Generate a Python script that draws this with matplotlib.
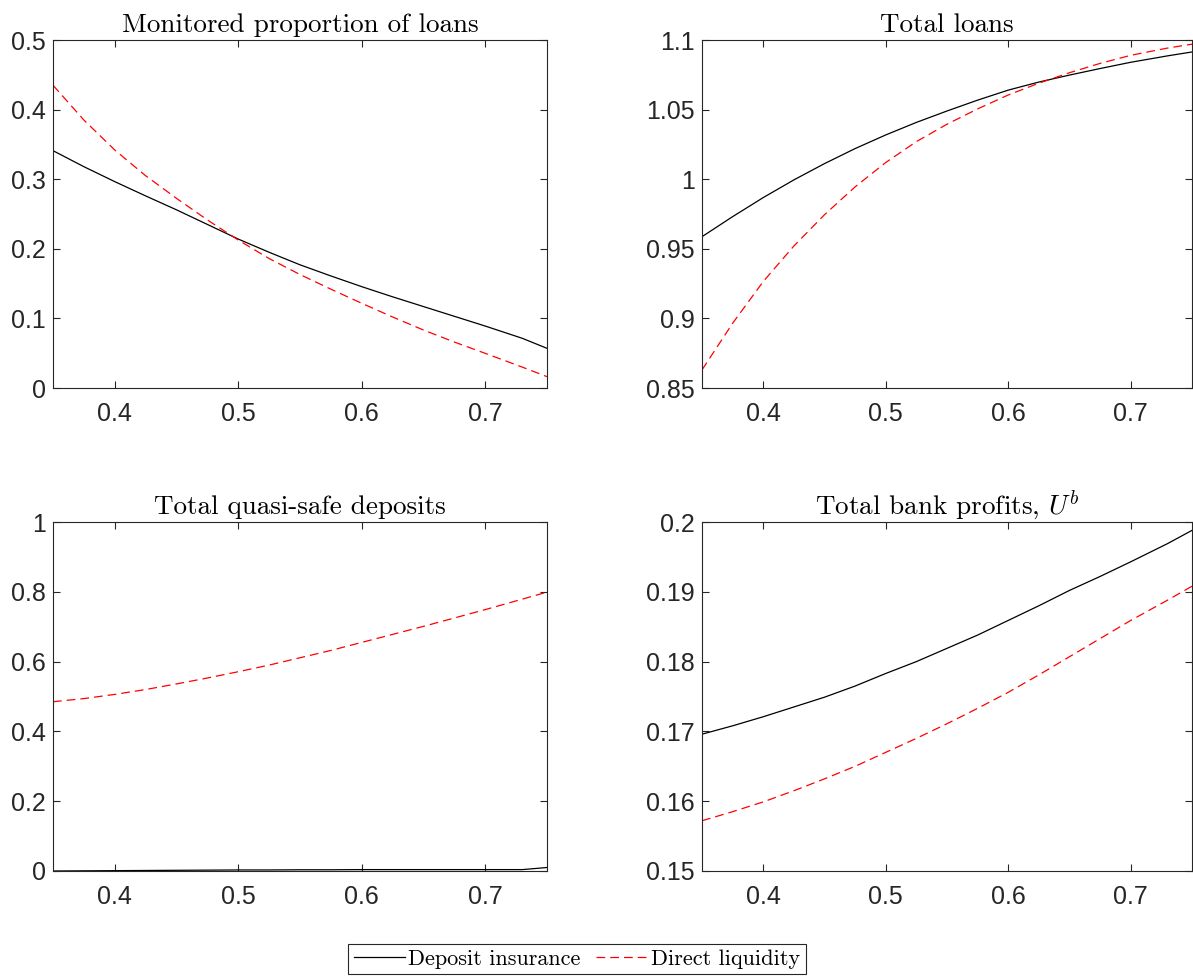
import matplotlib
matplotlib.use('Agg')
import matplotlib.pyplot as plt

plt.rcParams['mathtext.fontset'] = 'cm'
plt.rcParams['axes.unicode_minus'] = False

x = [0.35, 0.375, 0.40, 0.425, 0.45, 0.475, 0.50, 0.525, 0.55,
     0.575, 0.60, 0.625, 0.65, 0.675, 0.70, 0.73, 0.75]

# monitored proportion of loans
mon_di = [0.341, 0.318, 0.2965, 0.276, 0.256, 0.235, 0.214, 0.195, 0.177,
          0.161, 0.1456, 0.131, 0.117, 0.103, 0.089, 0.0714, 0.057]
mon_dl = [0.435, 0.385, 0.342, 0.305, 0.2725, 0.2415, 0.2126, 0.186, 0.163,
          0.142, 0.1217, 0.102, 0.0833, 0.066, 0.0498, 0.030, 0.0163]

# total loans
loans_di = [0.9587, 0.9731, 0.9868, 0.9995, 1.0112, 1.0220, 1.0318, 1.0408, 1.0490,
            1.0568, 1.0640, 1.0698, 1.0748, 1.0795, 1.0840, 1.0886, 1.0914]
loans_dl = [0.863, 0.8965, 0.9265, 0.9520, 0.9745, 0.9945, 1.0120, 1.0270, 1.0395,
            1.0505, 1.0605, 1.0690, 1.0765, 1.0832, 1.0890, 1.0942, 1.0970]

# total quasi-safe deposits
dep_di = [0.0, 0.0005, 0.001, 0.0015, 0.002, 0.0025, 0.003, 0.003, 0.0035,
          0.0035, 0.004, 0.004, 0.004, 0.004, 0.004, 0.004, 0.010]
dep_dl = [0.485, 0.494, 0.506, 0.520, 0.536, 0.553, 0.571, 0.590, 0.611,
          0.632, 0.655, 0.678, 0.701, 0.725, 0.749, 0.779, 0.799]

# total bank profits
prof_di = [0.1696, 0.1708, 0.1721, 0.1735, 0.1749, 0.1765, 0.1783, 0.1800, 0.1819,
           0.1838, 0.1859, 0.1880, 0.1902, 0.1922, 0.1943, 0.1969, 0.1988]
prof_dl = [0.1572, 0.1585, 0.1599, 0.1615, 0.1632, 0.1650, 0.1670, 0.1690, 0.1711,
           0.1733, 0.1756, 0.1781, 0.1807, 0.1833, 0.1859, 0.1888, 0.1908]

titles = ['Monitored proportion of loans', 'Total loans',
          'Total quasi-safe deposits', r'Total bank profits, $U^b$']
series = [(mon_di, mon_dl), (loans_di, loans_dl), (dep_di, dep_dl), (prof_di, prof_dl)]
ylims = [(0, 0.5), (0.85, 1.1), (0, 1), (0.15, 0.2)]
yticks = [[0, 0.1, 0.2, 0.3, 0.4, 0.5],
          [0.85, 0.9, 0.95, 1, 1.05, 1.1],
          [0, 0.2, 0.4, 0.6, 0.8, 1],
          [0.15, 0.16, 0.17, 0.18, 0.19, 0.2]]
xticks = [0.4, 0.5, 0.6, 0.7]

W, H = 1193, 977
fig = plt.figure(figsize=(W / 100, H / 100), dpi=100)

# pixel boxes: left, right, top, bottom
boxes = [(53, 547, 40, 388), (702, 1192, 40, 388),
         (53, 547, 522, 871), (702, 1192, 522, 871)]

axcol = '#262626'
lines = []
for i, (l, r, t, b) in enumerate(boxes):
    ax = fig.add_axes([l / W, 1 - b / H, (r - l) / W, (b - t) / H])
    d1, d2 = series[i]
    h1, = ax.plot(x, d1, color='black', lw=0.9, label='Deposit insurance')
    h2, = ax.plot(x, d2, color='red', lw=0.9, ls=(0, (7, 4)), label='Direct liquidity')
    lines = [h1, h2]
    ax.set_xlim(0.35, 0.75)
    ax.set_ylim(*ylims[i])
    ax.set_xticks(xticks)
    ax.set_yticks(yticks[i])
    ax.set_xticklabels(['%g' % v for v in xticks])
    ax.set_yticklabels(['%g' % v for v in yticks[i]])
    ax.tick_params(direction='in', top=True, right=True, length=5, width=0.8,
                   colors=axcol, labelsize=18, labelcolor=axcol)
    ax.tick_params(axis='x', pad=10)
    ax.tick_params(axis='y', pad=5)
    for lab in ax.get_xticklabels() + ax.get_yticklabels():
        lab.set_fontfamily('Liberation Sans')
    for s in ax.spines.values():
        s.set_color(axcol)
        s.set_linewidth(0.8)
    ax.set_title(titles[i], fontfamily='cmr10', fontsize=19.5, pad=6)

leg = fig.legend(lines, ['Deposit insurance', 'Direct liquidity'],
                 loc='center', bbox_to_anchor=(577 / W, 1 - 959 / H),
                 ncol=2, frameon=True, fancybox=False, edgecolor=axcol,
                 framealpha=1, handlelength=2.3, handletextpad=0.15,
                 columnspacing=0.7, borderpad=0.25, borderaxespad=0,
                 prop={'family': 'cmr10', 'size': 16})
leg.get_frame().set_linewidth(0.8)

fig.savefig('out.png', dpi=100)
